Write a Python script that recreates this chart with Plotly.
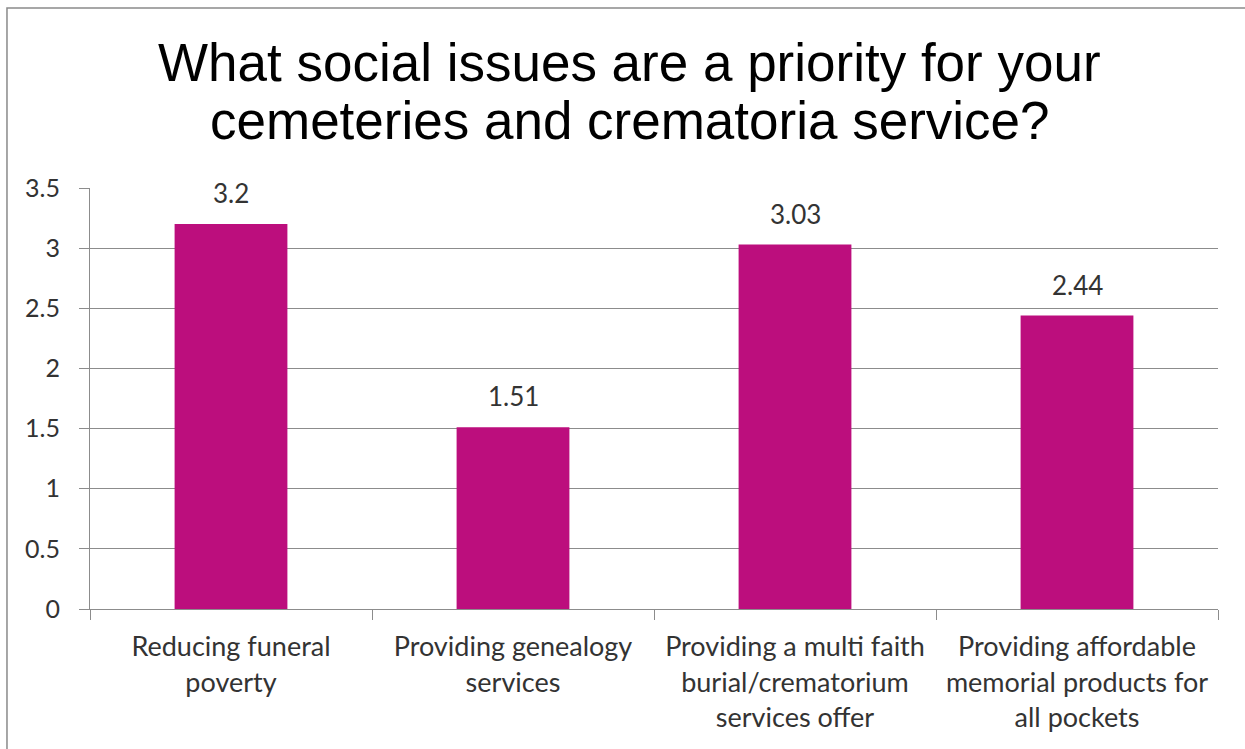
import plotly.graph_objects as go

categories = [
    "Reducing funeral<br>poverty",
    "Providing genealogy<br>services",
    "Providing a multi faith<br>burial/crematorium<br>services offer",
    "Providing affordable<br>memorial products for<br>all pockets",
]
scores = [3.2, 1.51, 3.03, 2.44]
y_ticks = [0, 0.5, 1, 1.5, 2, 2.5, 3, 3.5]
y_tick_text = ["0", "0.5", "1", "1.5", "2", "2.5", "3", "3.5"]
title_lines = [
    "What social issues are a priority for your",
    "cemeteries and crematoria service?",
]

BAR = "#BC0E7D"
GRID = "#8C8C8C"
TEXT = "#333333"
SANS = "Lato, Carlito, sans-serif"

fig = go.Figure(
    go.Bar(
        x=categories,
        y=scores,
        width=0.4,
        marker=dict(color=BAR, line=dict(width=0)),
        hoverinfo="skip",
    )
)

# value labels sitting above each bar
for cat, val in zip(categories, scores):
    fig.add_annotation(
        x=cat, y=val, text=f"{val:g}", showarrow=False,
        xref="x", yref="y", yanchor="middle", yshift=31,
        font=dict(family=SANS, size=26, color=TEXT),
    )

# two-line title with tight line spacing
for line, shift in zip(title_lines, [609 - 62 - 421, 609 - 120 - 421]):
    fig.add_annotation(
        x=0.4787, y=1.0, xref="paper", yref="paper",
        text=line, showarrow=False, xanchor="center", yanchor="middle",
        yshift=shift,
        font=dict(family="Liberation Sans, Arial, sans-serif", size=53, color="#000000"),
    )

# chart frame
fig.add_shape(
    type="rect", xref="paper", yref="paper",
    x0=-0.0736, x1=1.2, y0=-0.6, y1=1.4276,
    line=dict(color="#8A8A8A", width=1.5), fillcolor="rgba(0,0,0,0)",
    layer="below",
)

fig.update_layout(
    width=1245, height=749,
    margin=dict(l=90, r=27, t=188, b=140),
    paper_bgcolor="white", plot_bgcolor="white",
    showlegend=False,
    bargap=0.6,
    xaxis=dict(
        showline=True, linecolor=GRID, linewidth=1,
        ticks="outside", tickson="boundaries", ticklen=10, tickcolor=GRID,
        tickfont=dict(family=SANS, size=27, color=TEXT),
        ticklabelstandoff=14,
        showgrid=False, fixedrange=True,
    ),
    yaxis=dict(
        range=[0, 3.5], tickvals=y_ticks, ticktext=y_tick_text,
        showline=True, linecolor=GRID, linewidth=1,
        ticks="outside", ticklen=10, tickcolor=GRID,
        showgrid=True, gridcolor=GRID, gridwidth=1,
        zeroline=False, tickfont=dict(family=SANS, size=25, color=TEXT),
        ticklabelstandoff=14,
        fixedrange=True,
    ),
)

fig.write_html("out.html")
